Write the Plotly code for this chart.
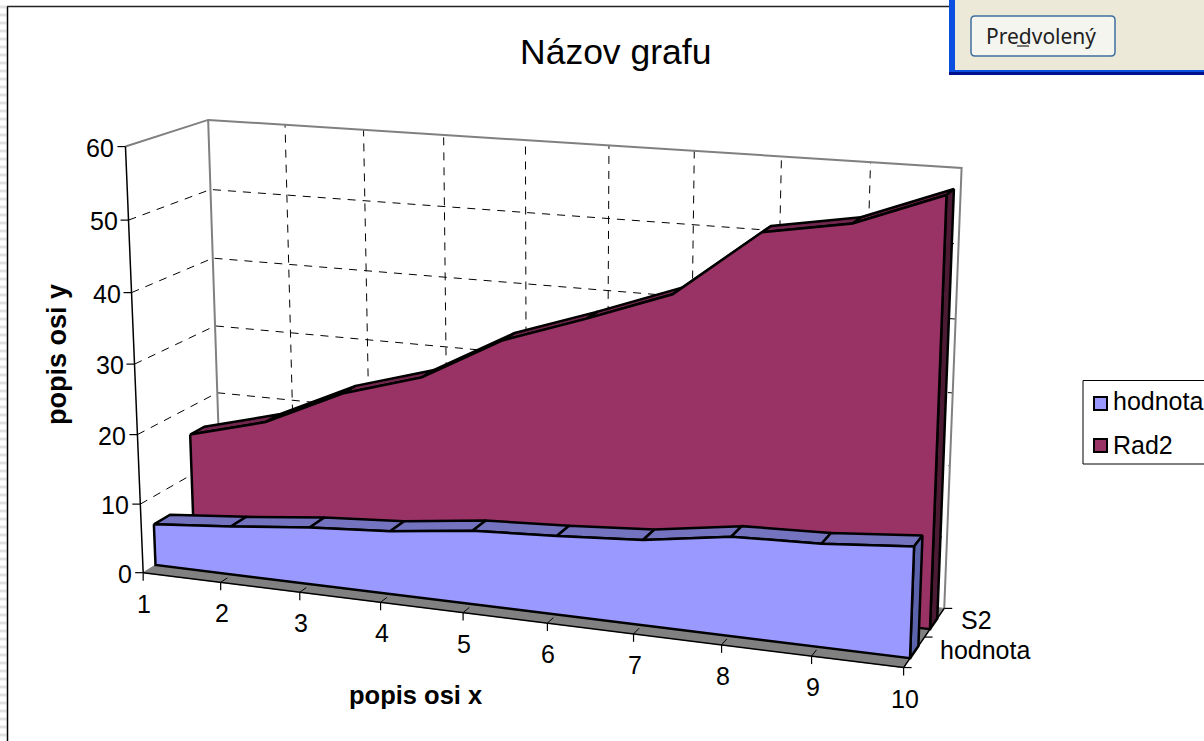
import numpy as np
import plotly.graph_objects as go

# ---- data ----
categories = [1, 2, 3, 4, 5, 6, 7, 8, 9, 10]
hodnota = [6, 7, 8.2, 9, 10.4, 11, 11.8, 13.6, 14, 15]
rad2 = [16, 19, 24.3, 27.7, 34, 38, 42.3, 51.5, 53.5, 58]
y_ticks = [0, 10, 20, 30, 40, 50, 60]
series_names = ["hodnota", "Rad2"]
depth_labels = ["hodnota", "S2"]
title = "Názov grafu"
x_title = "popis osi x"
y_title = "popis osi y"

W, H = 1204, 741
Y_MAX = 60
Z_BANDS = {"hodnota": (0.15, 0.35), "Rad2": (0.635, 0.82)}

# ---- camera: fitted from the picture's box corners ----
# (category, value, depth) -> pixel
calib = [
    ((1, 0, 0), (143, 573)), ((1, 60, 0), (125, 148)), ((1, 60, 1), (208, 120)),
    ((1, 0, 1), (222, 525)), ((10, 0, 1), (943, 608)), ((10, 60, 1), (962, 168)),
    ((10, 0, 0), (903, 668)), ((10, 0, 0.5), (926, 637)), ((1, 30, 0), (135, 362)),
    ((1, 30, 1), (215, 325)),
]


def _norm(c, v, z):
    return [(c - 1) / 9, v / Y_MAX, z, 1.0]


_A = []
for (c, v, z), (u, w) in calib:
    p = _norm(c, v, z)
    _A.append(p + [0, 0, 0, 0] + [-u * q for q in p])
    _A.append([0, 0, 0, 0] + p + [-w * q for q in p])
_P = np.linalg.svd(np.array(_A, float))[2][-1].reshape(3, 4)


def proj(c, v, z):
    h = _P @ np.array(_norm(c, v, z))
    return h[0] / h[2], h[1] / h[2]


fig = go.Figure()


def poly(pts, fill, line="black", width=2.5, name=None):
    xs = [p[0] for p in pts] + [pts[0][0]]
    ys = [p[1] for p in pts] + [pts[0][1]]
    fig.add_trace(go.Scatter(x=xs, y=ys, mode="lines", fill="toself", fillcolor=fill,
                             line=dict(color=line, width=width), name=name,
                             hoverinfo="skip", showlegend=False))


def seg(pts, color="black", width=1, dash="solid"):
    fig.add_trace(go.Scatter(x=[p[0] for p in pts], y=[p[1] for p in pts], mode="lines",
                             line=dict(color=color, width=width, dash=dash),
                             hoverinfo="skip", showlegend=False))


# ---- walls ----
c0, c1 = categories[0], categories[-1]
dash = "8px,7px"
for v in y_ticks[1:-1]:
    seg([proj(c0, v, 0), proj(c0, v, 1), proj(c1, v, 1)], dash=dash)
for c in categories[1:-1]:
    seg([proj(c, 0, 1), proj(c, Y_MAX, 1)], dash=dash)

# floor
poly([proj(c0, 0, 0), proj(c1, 0, 0), proj(c1, 0, 1), proj(c0, 0, 1)], "#808080", line="#808080", width=1)
for c in categories[1:-1]:
    seg([proj(c, 0, 0), proj(c, 0, 1)], dash=dash)

# wall edges
seg([proj(c0, Y_MAX, 0), proj(c0, Y_MAX, 1), proj(c1, Y_MAX, 1), proj(c1, 0, 1)], color="#808080", width=2)
seg([proj(c0, Y_MAX, 1), proj(c0, 0, 1)], color="#808080", width=2)
# axes and ticks
seg([proj(c0, Y_MAX, 0), proj(c0, 0, 0)], width=1.5)
seg([proj(c0, 0, 0), proj(c1, 0, 0)], width=1.5)
seg([proj(c1, 0, 0), proj(c1, 0, 1)], width=1.5)
for v in y_ticks:
    a = proj(c0, v, 0)
    seg([a, (a[0] - 8, a[1])], width=1.2)
    fig.add_annotation(x=a[0] - 9, y=a[1] + 1, text=str(v), showarrow=False, xanchor="right", yanchor="middle")
for c in categories:
    a = proj(c, 0, 0)
    seg([a, (a[0], a[1] + 8)], width=1.2)
    fig.add_annotation(x=a[0] + 1, y=a[1] + 31, text=str(c), showarrow=False, xanchor="center", yanchor="middle")
for z in (0, 0.5, 1):
    a = proj(c1, 0, z)
    seg([a, (a[0] + 8, a[1])], width=1.2)
for lab, z, dx, dy in [(depth_labels[0], 0.25, 24, -2), (depth_labels[1], 0.75, 24, -3)]:
    a = proj(c1, 0, z)
    fig.add_annotation(x=a[0] + dx, y=a[1] + dy, text=lab, showarrow=False, xanchor="left", yanchor="middle")


# ---- series ribbons, back to front ----
def ribbon(name, vals, front, top, side):
    z0, z1 = Z_BANDS[name]
    for i in range(len(categories) - 1):
        poly([proj(categories[i], vals[i], z0), proj(categories[i + 1], vals[i + 1], z0),
              proj(categories[i + 1], vals[i + 1], z1), proj(categories[i], vals[i], z1)], top)
    poly([proj(c1, 0, z0), proj(c1, vals[-1], z0), proj(c1, vals[-1], z1), proj(c1, 0, z1)], side)
    poly([proj(c, v, z0) for c, v in zip(categories, vals)] + [proj(c1, 0, z0), proj(c0, 0, z0)], front, name=name)


ribbon("Rad2", rad2, "#993366", "#73264D", "#4D1A33")
ribbon("hodnota", hodnota, "#9999FF", "#7373BF", "#5C63AD")

# ---- titles ----
fig.add_annotation(x=615.5, y=52, text=title, showarrow=False, font=dict(size=35.5))
fig.add_annotation(x=415, y=695, text="<b>" + x_title + "</b>", showarrow=False, font=dict(size=25.5))
fig.add_annotation(x=57, y=355, text="<b>" + y_title + "</b>", showarrow=False, textangle=-90, font=dict(size=27))

# ---- legend ----
shapes = [dict(type="rect", x0=1083, y0=380.5, x1=1210, y1=464, line=dict(color="black", width=1), fillcolor="white", layer="below")]
fig.add_trace(go.Scatter(x=[1100.5, 1100.5], y=[403.5, 445.5], mode="markers", hoverinfo="skip", showlegend=False,
                         marker=dict(symbol="square", size=13, color=["#9999FF", "#993366"], line=dict(color="black", width=2))))
for nm, yy in zip(series_names, [401, 445]):
    fig.add_annotation(x=1111, y=yy, text=nm, showarrow=False, xanchor="left", yanchor="middle")

# ---- surroundings: sheet frame, selection hatch, dialog fragment ----
stripes_x, stripes_y = [], []
for yy in range(7, H, 8):
    stripes_x += [0, 6.5, None]
    stripes_y += [yy, yy, None]
fig.add_trace(go.Scatter(x=stripes_x, y=stripes_y, mode="lines", line=dict(color="#e2e2e2", width=3),
                         hoverinfo="skip", showlegend=False))
shapes += [
    dict(type="line", x0=7.5, y0=6.5, x1=7.5, y1=H, line=dict(color="black", width=1.5)),
    dict(type="line", x0=7, y0=6.5, x1=950, y1=6.5, line=dict(color="#222222", width=1.5)),
    dict(type="rect", x0=949, y0=-2, x1=1206, y1=75, fillcolor="#0A4FE0", line=dict(width=0)),
    dict(type="rect", x0=949, y0=72, x1=1206, y1=75, fillcolor="#00138C", line=dict(width=0)),
    dict(type="rect", x0=955, y0=-2, x1=1206, y1=70, fillcolor="#ECE9D8", line=dict(width=0)),
    dict(type="path", path="M975,16 L1111,16 Q1115,16 1115,20 L1115,52 Q1115,56 1111,56 L975,56 Q971,56 971,52 L971,20 Q971,16 975,16 Z",
         fillcolor="#F5F5F0", line=dict(color="#3F6F9F", width=1.5)),
    dict(type="line", x0=1017, y0=46, x1=1029, y1=46, line=dict(color="#222222", width=1.2)),
]
fig.add_annotation(x=1040.5, y=36, text="Predvolený", showarrow=False, font=dict(size=21, family="Noto Sans", color="#222222"))

fig.update_layout(
    width=W, height=H, margin=dict(l=0, r=0, t=0, b=0), showlegend=False,
    paper_bgcolor="white", plot_bgcolor="white", shapes=shapes,
    font=dict(family="Liberation Sans, Arial, sans-serif", size=25, color="black"),
    xaxis=dict(range=[0, W], visible=False, fixedrange=True),
    yaxis=dict(range=[H, 0], visible=False, fixedrange=True),
)
fig.write_html("out.html", config=dict(displayModeBar=False),
               post_script="document.body.style.margin='0';document.documentElement.style.overflow='hidden';")
